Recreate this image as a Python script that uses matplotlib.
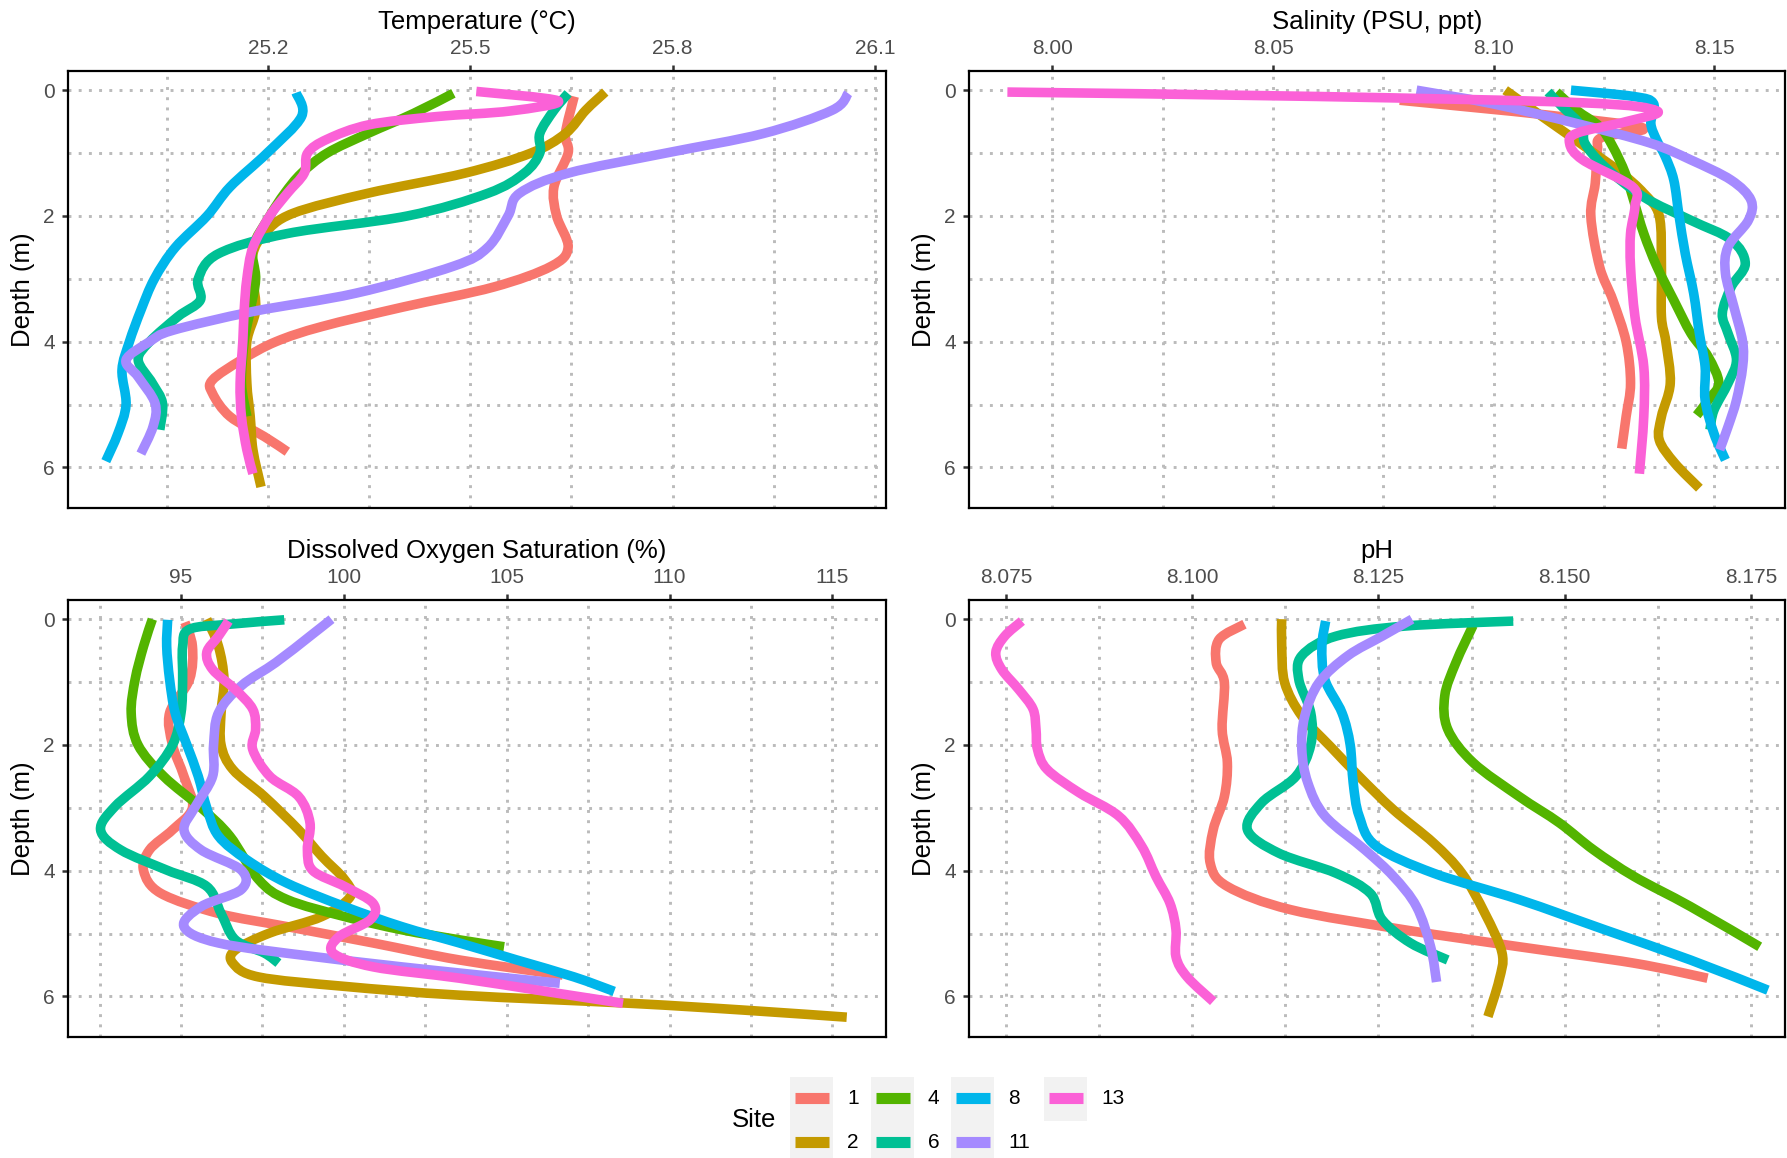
import matplotlib
matplotlib.use('Agg')
import matplotlib.pyplot as plt
from matplotlib.path import Path
from matplotlib.patches import PathPatch, Rectangle
from matplotlib.lines import Line2D
import numpy as np

plt.rcParams['font.family'] = ['Liberation Sans', 'DejaVu Sans']

sites = [1, 2, 4, 6, 8, 11, 13]
colors = ['#F8766D', '#C49A00', '#53B400', '#00C094', '#00B6EB', '#A58AFF', '#FB61D7']

# temperature (deg C) profiles, depth in m
temp_depth = {
    1: [0.1, 0.69, 1.0, 1.54, 2.0, 2.5, 2.8, 3.13, 3.45, 3.76, 4.0, 4.29, 4.61, 4.82, 5.19, 5.51, 5.75],
    2: [0.03, 0.32, 0.69, 1.0, 1.32, 1.64, 1.96, 2.28, 2.6, 3.0, 3.5, 4.0, 4.66, 5.19, 5.72, 6.31],
    4: [0.05, 0.37, 0.69, 1.0, 1.32, 1.64, 2.0, 2.5, 3.0, 3.5, 4.0, 4.66, 5.19],
    6: [0.05, 0.32, 0.69, 1.0, 1.32, 1.64, 2.0, 2.28, 2.6, 3.0, 3.34, 3.6, 4.0, 4.29, 4.66, 4.98, 5.4],
    8: [0.04, 0.42, 1.0, 1.54, 2.0, 2.5, 3.0, 3.5, 4.0, 4.45, 5.0, 5.46, 5.9],
    11: [0.05, 0.32, 0.69, 1.0, 1.32, 1.64, 2.0, 2.5, 2.8, 3.23, 3.52, 3.82, 4.0, 4.29, 4.56, 4.98, 5.35, 5.78],
    13: [0.02, 0.17, 0.33, 0.42, 0.55, 0.78, 1.0, 1.32, 1.64, 2.0, 2.5, 3.0, 3.5, 4.0, 4.66, 5.19, 5.72, 6.1],
}
temp_val = {
    1: [25.654, 25.641, 25.645, 25.624, 25.628, 25.645, 25.62, 25.535, 25.40, 25.28, 25.212, 25.161, 25.118, 25.118, 25.144, 25.195, 25.229],
    2: [25.70, 25.671, 25.641, 25.59, 25.492, 25.348, 25.237, 25.195, 25.178, 25.178, 25.182, 25.169, 25.169, 25.174, 25.178, 25.19],
    4: [25.475, 25.416, 25.348, 25.288, 25.25, 25.225, 25.203, 25.178, 25.182, 25.174, 25.165, 25.161, 25.169],
    6: [25.645, 25.624, 25.603, 25.603, 25.58, 25.526, 25.407, 25.229, 25.127, 25.097, 25.10, 25.067, 25.025, 25.008, 25.029, 25.044, 25.04],
    8: [25.242, 25.25, 25.199, 25.144, 25.11, 25.063, 25.032, 25.012, 24.995, 24.984, 24.99, 24.978, 24.96],
    11: [26.06, 26.036, 25.934, 25.79, 25.645, 25.573, 25.556, 25.526, 25.475, 25.33, 25.178, 25.059, 25.025, 24.99, 25.008, 25.033, 25.03, 25.012],
    13: [25.509, 25.63, 25.56, 25.45, 25.35, 25.288, 25.259, 25.254, 25.229, 25.203, 25.178, 25.169, 25.165, 25.163, 25.159, 25.161, 25.169, 25.178],
}

# salinity
sal_depth = {
    1: [0.16, 0.4, 0.6, 0.75, 0.95, 1.48, 2.0, 2.81, 3.34, 4.0, 4.66, 5.19, 5.7],
    2: [0.0, 0.42, 0.74, 1.0, 1.32, 1.64, 2.0, 2.8, 3.6, 4.0, 4.66, 5.19, 5.56, 5.93, 6.33],
    4: [0.03, 0.32, 0.58, 0.9, 1.32, 1.75, 2.28, 2.81, 3.34, 3.87, 4.24, 4.66, 4.93, 5.17],
    6: [0.03, 0.26, 0.58, 0.85, 1.22, 1.7, 2.07, 2.38, 2.76, 3.13, 3.55, 3.87, 4.29, 4.66, 5.09, 5.4],
    8: [0.0, 0.1, 0.21, 0.53, 0.79, 1.06, 1.43, 2.0, 2.6, 3.23, 3.87, 4.4, 4.93, 5.46, 5.88],
    11: [0.0, 0.21, 0.53, 0.84, 1.11, 1.43, 1.75, 2.07, 2.49, 2.91, 3.44, 4.0, 4.4, 4.93, 5.35, 5.72],
    13: [0.03, 0.1, 0.2, 0.33, 0.5, 0.68, 0.85, 1.11, 1.54, 1.85, 2.28, 2.81, 3.6, 4.4, 5.19, 6.1],
}
sal_val = {
    1: [8.0787, 8.1127, 8.1338, 8.1245, 8.1235, 8.123, 8.122, 8.124, 8.127, 8.13, 8.131, 8.130, 8.129],
    2: [8.1026, 8.111, 8.1175, 8.1227, 8.129, 8.134, 8.1375, 8.138, 8.138, 8.139, 8.140, 8.138, 8.1375, 8.141, 8.1466],
    4: [8.1142, 8.1188, 8.124, 8.127, 8.1298, 8.1317, 8.134, 8.137, 8.1408, 8.1447, 8.1486, 8.151, 8.1486, 8.146],
    6: [8.1123, 8.1155, 8.12, 8.1207, 8.1252, 8.134, 8.1447, 8.1538, 8.157, 8.1538, 8.1518, 8.1531, 8.155, 8.1531, 8.1499, 8.149],
    8: [8.1175, 8.1317, 8.1362, 8.1356, 8.1369, 8.1389, 8.1408, 8.142, 8.1434, 8.1453, 8.1466, 8.1479, 8.1479, 8.1499, 8.1525],
    11: [8.0825, 8.0993, 8.1188, 8.1354, 8.1447, 8.1538, 8.1583, 8.1577, 8.1531, 8.1525, 8.1544, 8.1564, 8.1564, 8.155, 8.1531, 8.1512],
    13: [7.9898, 8.06, 8.12, 8.137, 8.13, 8.119, 8.1172, 8.1202, 8.1315, 8.132, 8.131, 8.131, 8.132, 8.134, 8.134, 8.133],
}

# dissolved oxygen saturation (%)
do_depth = {
    1: [0.05, 0.43, 0.96, 1.49, 2.0, 2.5, 3.0, 3.35, 3.67, 4.0, 4.36, 4.68, 4.89, 5.15, 5.42, 5.66],
    2: [0.0, 0.43, 0.96, 1.49, 2.0, 2.39, 2.82, 3.35, 3.77, 4.14, 4.41, 4.73, 4.99, 5.26, 5.47, 5.69, 5.84, 5.98, 6.11, 6.22, 6.33],
    4: [0.0, 0.43, 0.96, 1.49, 2.0, 2.5, 3.0, 3.45, 4.14, 4.46, 4.73, 4.94, 5.1, 5.21],
    6: [0.01, 0.08, 0.16, 0.43, 0.96, 1.49, 2.0, 2.5, 2.98, 3.35, 3.67, 3.99, 4.25, 4.68, 5.1, 5.31, 5.47],
    8: [0.01, 0.43, 0.96, 1.49, 2.0, 2.5, 3.0, 3.45, 3.83, 4.2, 4.57, 4.89, 5.15, 5.42, 5.69, 5.92],
    11: [0.0, 0.27, 0.69, 1.06, 1.49, 2.0, 2.5, 2.98, 3.35, 3.67, 3.99, 4.3, 4.57, 4.89, 5.15, 5.37, 5.58, 5.79],
    13: [0.03, 0.27, 0.53, 0.8, 1.12, 1.43, 1.75, 2.07, 2.5, 2.82, 3.24, 3.67, 4.0, 4.25, 4.52, 4.78, 5.05, 5.31, 5.53, 5.71, 5.92, 6.11],
}
do_val = {
    1: [95.12, 95.35, 95.26, 94.65, 94.74, 95.09, 95.35, 94.74, 94.03, 93.85, 94.38, 96.15, 98.26, 100.9, 103.55, 106.72],
    2: [95.79, 96.15, 96.32, 96.23, 96.23, 96.59, 97.56, 98.61, 99.32, 100.02, 100.2, 99.32, 97.73, 96.67, 96.59, 97.38, 100.02, 103.55, 108.83, 112.36, 115.44],
    4: [94.12, 93.85, 93.59, 93.47, 93.68, 94.47, 95.62, 96.5, 97.38, 98.26, 100.02, 101.78, 103.55, 104.92],
    6: [98.17, 96.5, 95.26, 95.05, 95.05, 95.0, 94.74, 94.03, 92.97, 92.53, 93.15, 94.56, 95.79, 96.23, 96.67, 97.56, 97.99],
    8: [94.59, 94.56, 94.65, 94.82, 95.18, 95.53, 95.79, 96.15, 97.03, 98.26, 100.02, 101.78, 103.55, 105.31, 107.07, 108.3],
    11: [99.62, 98.96, 97.91, 96.85, 96.15, 96.0, 95.97, 95.44, 95.09, 95.62, 96.85, 96.85, 95.62, 95.09, 96.15, 99.14, 102.67, 106.63],
    13: [96.46, 96.15, 95.79, 95.97, 96.67, 97.2, 97.29, 97.2, 97.73, 98.61, 98.96, 98.88, 99.05, 100.02, 100.9, 100.81, 99.85, 99.67, 100.9, 103.55, 106.19, 108.57],
}

# pH
ph_depth = {
    1: [0.08, 0.32, 0.69, 1.01, 1.75, 2.28, 2.82, 3.35, 3.88, 4.25, 4.62, 4.94, 5.21, 5.47, 5.71],
    2: [0.0, 0.43, 1.01, 1.54, 2.02, 2.5, 3.03, 3.56, 4.04, 4.68, 5.31, 5.74, 6.32],
    4: [0.1, 0.69, 1.22, 1.75, 2.28, 2.82, 3.24, 3.67, 4.09, 4.57, 5.21],
    6: [0.03, 0.11, 0.27, 0.58, 0.96, 1.49, 2.0, 2.5, 2.92, 3.35, 3.72, 4.04, 4.36, 4.78, 5.15, 5.42],
    8: [0.03, 0.43, 0.96, 1.49, 2.0, 2.6, 3.13, 3.61, 4.04, 4.46, 4.94, 5.42, 5.9],
    11: [0.0, 0.27, 0.58, 1.01, 1.54, 2.07, 2.6, 3.13, 3.67, 4.09, 4.57, 5.21, 5.77],
    13: [0.03, 0.27, 0.53, 0.8, 1.12, 1.43, 1.75, 2.07, 2.39, 2.76, 3.13, 3.61, 4.09, 4.52, 4.94, 5.37, 5.69, 6.08],
}
ph_val = {
    1: [8.107, 8.1036, 8.1032, 8.1043, 8.104, 8.1047, 8.1043, 8.1028, 8.1024, 8.1047, 8.1132, 8.1285, 8.1439, 8.1593, 8.1692],
    2: [8.112, 8.112, 8.1124, 8.1147, 8.1185, 8.1224, 8.127, 8.1324, 8.1362, 8.1393, 8.1416, 8.1412, 8.1397],
    4: [8.1377, 8.1354, 8.1339, 8.1343, 8.1377, 8.1439, 8.1493, 8.1539, 8.1593, 8.1669, 8.1762],
    6: [8.1431, 8.1285, 8.1193, 8.1147, 8.1143, 8.1159, 8.1159, 8.1139, 8.1093, 8.1074, 8.1116, 8.1193, 8.1239, 8.1255, 8.1293, 8.1343],
    8: [8.1179, 8.1174, 8.1178, 8.1201, 8.1212, 8.1216, 8.1224, 8.1247, 8.1324, 8.1439, 8.1554, 8.1669, 8.1773],
    11: [8.1295, 8.1255, 8.1209, 8.117, 8.1151, 8.1147, 8.1155, 8.1178, 8.1232, 8.127, 8.1301, 8.132, 8.1328],
    13: [8.0771, 8.0748, 8.0736, 8.0744, 8.0767, 8.0786, 8.079, 8.0792, 8.0805, 8.0848, 8.0901, 8.0932, 8.0951, 8.097, 8.0978, 8.0978, 8.0993, 8.1028],
}

W, H = 1787, 1158
GRID = '#BBBBBB'
TICKCOL = '#4D4D4D'


def px_rect(left, top, right, bottom):
    return [left / W, 1 - bottom / H, (right - left) / W, (bottom - top) / H]


def smooth_path(x, y):
    # catmull-rom through the read points, drawn as cubic bezier segments
    pts = np.column_stack([x, y])
    ext = np.vstack([pts[0], pts, pts[-1]])
    verts = [pts[0]]
    codes = [Path.MOVETO]
    for i in range(1, len(ext) - 2):
        p0, p1, p2, p3 = ext[i - 1], ext[i], ext[i + 1], ext[i + 2]
        verts += [p1 + (p2 - p0) / 6, p2 - (p3 - p1) / 6, p2]
        codes += [Path.CURVE4] * 3
    return Path(verts, codes)


def panel(rect, depth, val, xlim, major, minor, fmt, title, ylab_x):
    ax = fig.add_axes(px_rect(*rect))
    for s, c in zip(sites, colors):
        ax.add_patch(PathPatch(smooth_path(val[s], depth[s]), fill=False, edgecolor=c,
                               lw=6.9, capstyle='butt', joinstyle='round', zorder=3))
    ax.set_xlim(*xlim)
    ax.set_ylim(6.645, -0.305)
    ax.xaxis.tick_top()
    ax.set_xticks(major)
    ax.set_xticklabels([fmt.format(v) for v in major])
    ax.set_xticks(minor, minor=True)
    ax.set_yticks([0, 2, 4, 6])
    ax.set_yticks([1, 3, 5], minor=True)
    ax.tick_params(axis='both', which='major', labelsize=15, labelcolor=TICKCOL,
                   color='#333333', length=4.5, width=1.8, pad=5)
    ax.tick_params(axis='both', which='minor', length=0)
    ax.grid(True, which='both', color=GRID, lw=2.1, linestyle=(0, (1.0, 2.5)), zorder=1)
    for sp in ax.spines.values():
        sp.set_linewidth(1.6)
        sp.set_color('black')
    cx = (rect[0] + rect[2]) / 2
    fig.text(cx / W, 1 - (rect[1] - 49) / H, title, ha='center', va='center', fontsize=18.5)
    fig.text(ylab_x / W, 1 - ((rect[1] + rect[3]) / 2) / H, 'Depth (m)', rotation=90,
             ha='center', va='center', fontsize=18.5)
    return ax


fig = plt.figure(figsize=(W / 100, H / 100), dpi=100)

panel((68, 71, 886, 508), temp_depth, temp_val, (24.904, 26.116),
      [25.2, 25.5, 25.8, 26.1], [25.05, 25.35, 25.65, 25.95], '{:.1f}',
      'Temperature (°C)', 23)
panel((969, 71, 1785, 508), sal_depth, sal_val, (7.9811, 8.166),
      [8.00, 8.05, 8.10, 8.15], [8.025, 8.075, 8.125], '{:.2f}',
      'Salinity (PSU, ppt)', 924)
panel((68, 600, 886, 1037), do_depth, do_val, (91.53, 116.645),
      [95, 100, 105, 110, 115], [92.5, 97.5, 102.5, 107.5, 112.5], '{:.0f}',
      'Dissolved Oxygen Saturation (%)', 23)
panel((969, 600, 1785, 1037), ph_depth, ph_val, (8.070, 8.1796),
      [8.075, 8.100, 8.125, 8.150, 8.175], [8.0875, 8.1125, 8.1375, 8.1625], '{:.3f}',
      'pH', 924)

# legend (4 columns, 2 rows, filled by column)
fig.text(754 / W, 1 - 1120 / H, 'Site', ha='center', va='center', fontsize=18.5)
col_left = [790, 871, 951, 1044]
row_top = [1077, 1121]
for i, (s, c) in enumerate(zip(sites, colors)):
    col, row = i // 2, i % 2
    x0, y0 = col_left[col], row_top[row]
    fig.patches.append(Rectangle((x0 / W, 1 - (y0 + 44) / H), 43 / W, 44 / H,
                                 transform=fig.transFigure, facecolor='#F2F2F2',
                                 edgecolor='none', zorder=1))
    yc = 1 - (y0 + 21) / H
    fig.lines.append(Line2D([(x0 + 5) / W, (x0 + 39) / W], [yc, yc], transform=fig.transFigure,
                            color=c, lw=8, solid_capstyle='butt', zorder=2))
    fig.text((x0 + 57) / W, yc, str(s), ha='left', va='center', fontsize=15)

fig.savefig('out.png', dpi=100)
